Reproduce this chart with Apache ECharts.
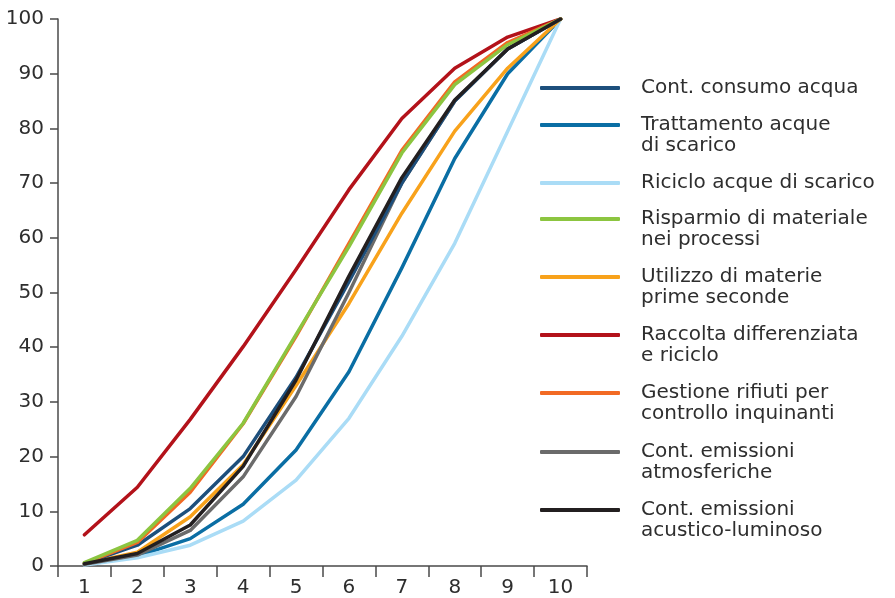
<!DOCTYPE html>
<html>
<head>
<meta charset="utf-8">
<script src="https://cdn.jsdelivr.net/npm/echarts@6/dist/echarts.min.js"></script>
<style>html,body{margin:0;padding:0;background:#fff}#c{width:895px;height:598px}</style>
</head>
<body>
<div id="c"></div>
<script>
const categories = ['1','2','3','4','5','6','7','8','9','10'];
const yTicks = [0,10,20,30,40,50,60,70,80,90,100];

const consumoAcqua   = [0.5, 3.8, 10.5, 20.0, 34.5, 52.0, 70.0, 85.0, 94.5, 100];
const trattamento    = [0.3, 1.8, 5.0, 11.3, 21.2, 35.5, 54.5, 74.5, 90.0, 100];
const ricicloAcque   = [0.2, 1.5, 3.8, 8.2, 15.7, 27.0, 42.0, 59.0, 79.5, 100];
const risparmio      = [0.6, 4.7, 14.2, 26.1, 42.3, 58.4, 75.5, 88.0, 95.3, 100];
const utilizzo       = [0.4, 2.5, 9.0, 18.5, 33.0, 48.0, 64.5, 79.5, 91.0, 100];
const raccolta       = [5.7, 14.4, 26.8, 40.1, 54.2, 68.8, 81.8, 91.0, 96.7, 100];
const gestione       = [0.5, 4.3, 13.5, 26.0, 42.0, 59.0, 76.0, 88.5, 95.7, 100];
const atmosferiche   = [0.3, 2.0, 6.5, 16.3, 31.0, 50.0, 70.0, 85.0, 94.5, 100];
const acustico       = [0.4, 2.3, 7.5, 18.2, 34.0, 53.0, 71.0, 85.2, 94.5, 100];

const seriesDefs = [
  {name: 'Cont. consumo acqua', data: consumoAcqua, color: '#1d4f7c', lines: 1, z: 3},
  {name: 'Trattamento acque\ndi scarico', data: trattamento, color: '#0a6ea4', lines: 2, z: 2},
  {name: 'Riciclo acque di scarico', data: ricicloAcque, color: '#aadcf6', lines: 1, z: 2},
  {name: 'Risparmio di materiale\nnei processi', data: risparmio, color: '#8cc540', lines: 2, z: 4},
  {name: 'Utilizzo di materie\nprime seconde', data: utilizzo, color: '#f8a21b', lines: 2, z: 2},
  {name: 'Raccolta differenziata\ne riciclo', data: raccolta, color: '#b3121a', lines: 2, z: 2},
  {name: 'Gestione rifiuti per\ncontrollo inquinanti', data: gestione, color: '#f26a24', lines: 2, z: 3},
  {name: 'Cont. emissioni\natmosferiche', data: atmosferiche, color: '#6b6b6b', lines: 2, z: 2},
  {name: 'Cont. emissioni\nacustico-luminoso', data: acustico, color: '#231f20', lines: 2, z: 5}
];

const legendIconY = [88, 125, 183, 219, 277, 335, 393, 452, 510];
const LH = 21;
const FONT = '"DejaVu Sans", sans-serif';

const legends = seriesDefs.map((s, i) => {
  const two = s.lines === 2;
  return {
    data: [s.name],
    orient: 'vertical',
    left: 540,
    top: two ? legendIconY[i] - (LH * 3) / 2 : legendIconY[i] - LH / 2,
    padding: 0,
    itemWidth: 80,
    itemHeight: 4,
    icon: 'roundRect',
    selectedMode: false,
    formatter: two ? (name => '\n' + name) : (name => name),
    textStyle: {
      fontFamily: FONT,
      fontSize: 20,
      lineHeight: LH,
      color: '#2e2e2e',
      padding: [0, 0, 0, 16]
    }
  };
});

const chart = echarts.init(document.getElementById('c'));
chart.setOption({
  animation: false,
  backgroundColor: '#fff',
  legend: legends,
  grid: {left: 58, right: 308, top: 19, bottom: 31, containLabel: false},
  xAxis: {
    type: 'category',
    data: categories,
    boundaryGap: true,
    axisLine: {lineStyle: {color: '#4a4a4a', width: 1.5}},
    axisTick: {show: true, length: 11, lineStyle: {color: '#4a4a4a', width: 1.5}},
    axisLabel: {fontFamily: FONT, fontSize: 20, color: '#2e2e2e', margin: 12}
  },
  yAxis: {
    type: 'value',
    min: 0, max: 100, interval: 10,
    axisLine: {show: true, lineStyle: {color: '#4a4a4a', width: 1.5}},
    axisTick: {show: true, length: 8, lineStyle: {color: '#4a4a4a', width: 1.5}},
    splitLine: {show: false},
    axisLabel: {
      fontFamily: FONT, fontSize: 20, color: '#2e2e2e', margin: 14,
      formatter: v => yTicks.includes(v) ? String(v) : ''
    }
  },
  series: seriesDefs.map(s => ({
    name: s.name,
    type: 'line',
    data: s.data,
    z: s.z,
    symbol: 'none',
    smooth: false,
    color: s.color,
    lineStyle: {color: s.color, width: 3.5, cap: 'round', join: 'round'},
    itemStyle: {color: s.color}
  }))
});
</script>
</body>
</html>
